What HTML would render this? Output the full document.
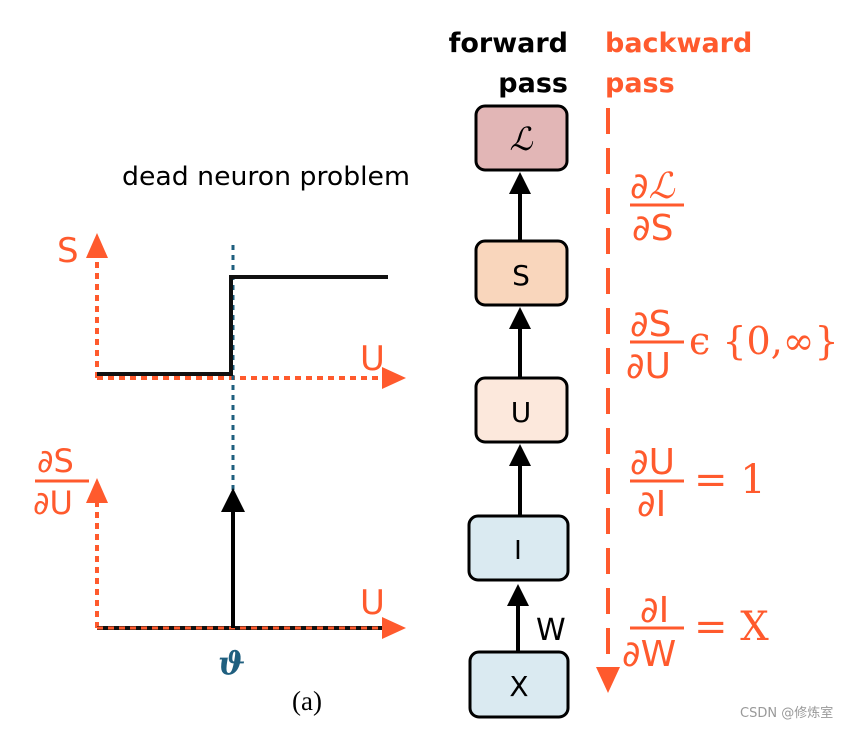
<!DOCTYPE html>
<html><head><style>body{margin:0;background:#fff}svg{display:block}</style></head><body>
<svg width="852" height="729" viewBox="0 0 852 729" xmlns="http://www.w3.org/2000/svg" font-family="DejaVu Sans, Liberation Sans, sans-serif">
<!-- top texts -->
<text x="568" y="52" font-size="27" text-anchor="end" fill="#000" font-weight="600">forward</text>
<text x="568" y="92" font-size="27" text-anchor="end" fill="#000" font-weight="600">pass</text>
<text x="605" y="52" font-size="27" fill="#ff5a2d" font-weight="600">backward</text>
<text x="605" y="92" font-size="27" fill="#ff5a2d" font-weight="600">pass</text>
<text x="122" y="185" font-size="26" fill="#000" textLength="288" lengthAdjust="spacingAndGlyphs">dead neuron problem</text>

<!-- top plot -->
<g stroke="#ff5a2d" stroke-width="4" stroke-dasharray="6,5" fill="none">
<line x1="97" y1="378" x2="97" y2="255"/>
<line x1="97" y1="378" x2="385" y2="378"/>
<line x1="97" y1="628" x2="97" y2="500"/>
</g>
<polygon points="97,233 86,258 108,258" fill="#ff5a2d"/>
<polygon points="406,378 382,367 382,389" fill="#ff5a2d"/>
<polygon points="97,478 86,503 108,503" fill="#ff5a2d"/>
<line x1="233" y1="245" x2="233" y2="490" stroke="#1f5f7f" stroke-width="3" stroke-dasharray="5,5"/>
<polyline points="97,374 231,374 231,277 388,277" fill="none" stroke="#111" stroke-width="4"/>
<text x="57" y="262" font-size="34" fill="#ff5a2d">S</text>
<text x="360" y="370" font-size="34" fill="#ff5a2d">U</text>

<!-- bottom plot -->
<line x1="97" y1="628" x2="385" y2="628" stroke="#111" stroke-width="4"/>
<line x1="97" y1="628" x2="385" y2="628" stroke="#ff5a2d" stroke-width="3" stroke-dasharray="6,5"/>
<polygon points="406,628 382,617 382,639" fill="#ff5a2d"/>
<line x1="233" y1="628" x2="233" y2="510" stroke="#000" stroke-width="4"/>
<polygon points="233,488 221,512 245,512" fill="#000"/>
<text x="37" y="472" font-size="32" fill="#ff5a2d">∂S</text>
<line x1="35" y1="481" x2="89" y2="481" stroke="#ff5a2d" stroke-width="3"/>
<text x="33" y="514" font-size="32" fill="#ff5a2d">∂U</text>
<text x="360" y="614" font-size="34" fill="#ff5a2d">U</text>
<text x="218" y="674" font-size="32" fill="#1f5f7f" font-weight="bold" font-style="italic" font-family="DejaVu Serif, serif">ϑ</text>
<text x="292" y="710" font-size="27" fill="#000" font-family="Liberation Serif, serif">(a)</text>

<!-- boxes -->
<g stroke="#000" stroke-width="3">
<rect x="476" y="106" width="91" height="64" rx="9" fill="#e2b6b6"/>
<rect x="476" y="241" width="91" height="64" rx="9" fill="#f9d6bc"/>
<rect x="476" y="378" width="91" height="64" rx="9" fill="#fce8dc"/>
<rect x="469" y="516" width="99" height="64" rx="9" fill="#daeaf1"/>
<rect x="470" y="652" width="98" height="65" rx="9" fill="#daeaf1"/>
</g>
<g stroke="#000" stroke-width="4">
<line x1="520" y1="241" x2="520" y2="190"/>
<line x1="520" y1="378" x2="520" y2="326"/>
<line x1="520" y1="516" x2="520" y2="463"/>
<line x1="518" y1="652" x2="518" y2="605"/>
</g>
<g fill="#000">
<polygon points="520,172 509,194 531,194"/>
<polygon points="520,307 509,329 531,329"/>
<polygon points="520,444 509,466 531,466"/>
<polygon points="518,584 507,606 529,606"/>
</g>
<text x="521" y="150" font-size="32" text-anchor="middle" font-style="italic" font-family="DejaVu Serif, serif">ℒ</text>
<text x="521" y="285" font-size="28" text-anchor="middle">S</text>
<text x="521" y="422" font-size="28" text-anchor="middle">U</text>
<text x="518" y="559" font-size="26" text-anchor="middle">I</text>
<text x="519" y="696" font-size="28" text-anchor="middle">X</text>
<text x="536" y="640" font-size="30">W</text>

<!-- backward dashed -->
<line x1="608" y1="108" x2="608" y2="665" stroke="#ff5a2d" stroke-width="4" stroke-dasharray="26,14"/>
<polygon points="608,693 596,667 620,667" fill="#ff5a2d"/>

<!-- fractions -->
<g fill="#ff5a2d" font-size="36">
<text x="630" y="198">∂<tspan font-style="italic" font-family="DejaVu Serif, serif">ℒ</tspan></text>
<line x1="630" y1="205" x2="684" y2="205" stroke="#ff5a2d" stroke-width="3"/>
<text x="632" y="240">∂S</text>

<text x="630" y="336">∂S</text>
<line x1="630" y1="342" x2="684" y2="342" stroke="#ff5a2d" stroke-width="3"/>
<text x="626" y="378">∂U</text>
<text x="689" y="354" font-family="DejaVu Serif, serif" font-size="38">ϵ {0,∞}</text>

<text x="630" y="474">∂U</text>
<line x1="630" y1="481" x2="684" y2="481" stroke="#ff5a2d" stroke-width="3"/>
<text x="637" y="516">∂I</text>
<text x="694" y="493" font-family="DejaVu Serif, serif" font-size="40">= 1</text>

<text x="640" y="622">∂I</text>
<line x1="630" y1="628" x2="684" y2="628" stroke="#ff5a2d" stroke-width="3"/>
<text x="622" y="666">∂W</text>
<text x="694" y="640" font-family="DejaVu Serif, serif" font-size="40">= X</text>
</g>
<text x="740" y="717" font-size="13" fill="#999">CSDN @修炼室</text>
</svg>
</body></html>
